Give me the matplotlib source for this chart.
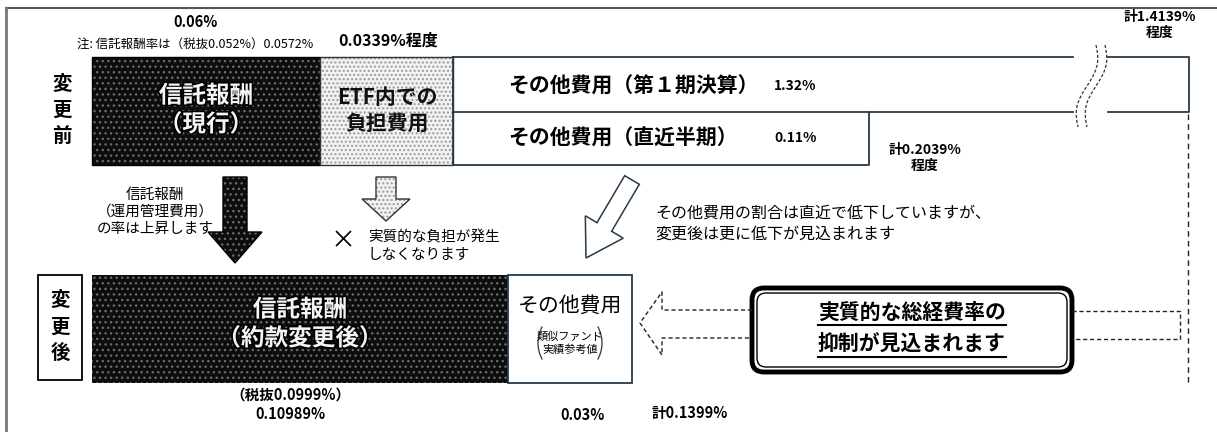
import matplotlib.pyplot as plt
import matplotlib.patheffects as pe
import numpy as np
from matplotlib.patches import Rectangle, FancyArrow, FancyBboxPatch

plt.rcParams['font.family'] = ['Noto Sans CJK JP', 'DejaVu Sans']

# values / labels
before_labels = ["信託報酬\n（現行）", "ETF内での\n負担費用", "その他費用（第１期決算）", "その他費用（直近半期）"]
before_values = ["0.06%", "0.0339%程度", "1.32%", "0.11%"]
before_totals = ["計1.4139%\n程度", "計0.2039%\n程度"]
fee_note = "注: 信託報酬率は（税抜0.052%）0.0572%"
after_labels = ["信託報酬\n（約款変更後）", "その他費用"]
after_values = ["（税抜0.0999%）\n0.10989%", "0.03%"]
after_total = "計0.1399%"
sub_note = "類似ファンド\n実績参考値"
msg_fee = "信託報酬\n（運用管理費用）\nの率は上昇します"
msg_etf = "実質的な負担が発生\nしなくなります"
msg_other = "その他費用の割合は直近で低下していますが、\n変更後は更に低下が見込まれます"
msg_main = ["実質的な総経費率の", "抑制が見込まれます"]

EDGE = '#263a4a'

fig = plt.figure(figsize=(12.17, 4.32), dpi=100)
ax = fig.add_axes([0, 0, 1, 1])
ax.set_xlim(0, 1217)
ax.set_ylim(432, 0)
ax.axis('off')

# outer frame
ax.plot([6, 1217], [8, 8], color='#555', lw=1.5)
ax.plot([6, 6], [8, 432], color='#777', lw=2)


def dotted(patch_fn, face, dots, edge='black', lw=1.0, hatch='...'):
    p1 = patch_fn()
    p1.set_facecolor(face)
    p1.set_edgecolor(dots)
    p1.set_hatch(hatch)
    p1.set_linewidth(0)
    ax.add_patch(p1)
    p2 = patch_fn()
    p2.set_facecolor('none')
    p2.set_edgecolor(edge)
    p2.set_linewidth(lw)
    ax.add_patch(p2)


def bold_white(x, y, s, size):
    ax.text(x, y, s, ha='center', va='center', fontsize=size, fontweight='bold',
            color='#f4f4f4', linespacing=1.25,
            path_effects=[pe.withStroke(linewidth=2.5, foreground='black')])


# ---- before row
dotted(lambda: Rectangle((92, 57), 228, 108), '#0d0d0d', '#6a6a6a')
bold_white(206, 110, before_labels[0], 17)
dotted(lambda: Rectangle((320, 57), 133, 108), '#f2f2f2', '#9a9a9a', edge='#333', hatch='....')
ax.text(387, 110, before_labels[1], ha='center', va='center', fontsize=15, fontweight='bold',
        color='#111', linespacing=1.25)

# upper other box with break
ax.plot([453, 1073], [57, 57], color=EDGE, lw=1.3)
ax.plot([1108, 1189, 1189, 1108], [57, 57, 112, 112], color=EDGE, lw=1.3)
ax.plot([453, 1073], [112, 112], color=EDGE, lw=1.3)
ax.plot([453, 453], [57, 165], color=EDGE, lw=1.3)
ax.plot([453, 869, 869], [165, 165, 112], color=EDGE, lw=1.3)
ax.text(508, 86, before_labels[2], ha='left', va='center', fontsize=15, fontweight='bold')
ax.text(774, 86, before_values[2], ha='left', va='center', fontsize=10, fontweight='bold')
ax.text(508, 138, before_labels[3], ha='left', va='center', fontsize=15, fontweight='bold')
ax.text(774, 138, before_values[3], ha='left', va='center', fontsize=10, fontweight='bold')

# break marks
t = np.linspace(0, 1, 60)
for off in (0, 9):
    xs = 1096 - 18 * t + 5.5 * np.sin(2 * np.pi * t) + off
    ys = 45 + 82 * t
    ax.plot(xs, ys, color='#333', lw=0.9, ls=(0, (2.5, 1.5)))

ax.text(1160, 25, before_totals[0], ha='center', va='center', fontsize=10, fontweight='bold',
        linespacing=1.15)
ax.text(925, 158, before_totals[1], ha='center', va='center', fontsize=10, fontweight='bold',
        linespacing=1.15)

ax.text(196, 22, before_values[0], ha='center', va='center', fontsize=10.5, fontweight='bold')
ax.text(195, 44, fee_note, ha='center', va='center', fontsize=9)
ax.text(388, 41, before_values[1], ha='center', va='center', fontsize=11.5, fontweight='bold')

# row label
for i, ch in enumerate("変更前"):
    ax.text(62, 84 + i * 26, ch, ha='center', va='center', fontsize=14, fontweight='bold')

# ---- arrows
dotted(lambda: FancyArrow(235, 177, 0, 86, width=24, head_width=54, head_length=31,
                          length_includes_head=True), '#0d0d0d', '#6a6a6a')
dotted(lambda: FancyArrow(386, 177, 0, 44, width=20, head_width=48, head_length=22,
                          length_includes_head=True), '#f2f2f2', '#9a9a9a', edge='#333',
       hatch='....')
ax.add_patch(FancyArrow(632, 180, -46, 78, width=17, head_width=44, head_length=36,
                        length_includes_head=True, facecolor='white', edgecolor=EDGE, lw=1.1))

ax.text(155, 212, msg_fee, ha='center', va='center', fontsize=10.5, linespacing=1.3)
ax.text(343, 241, "×", ha='center', va='center', fontsize=18)
ax.text(368, 246, msg_etf, ha='left', va='center', fontsize=10.5, linespacing=1.3)
ax.text(655, 224, msg_other, ha='left', va='center', fontsize=11.5, linespacing=1.3)

# ---- after row
ax.add_patch(Rectangle((38, 275), 44, 105, facecolor='white', edgecolor='black', lw=1.3))
for i, ch in enumerate("変更後"):
    ax.text(60, 301 + i * 26, ch, ha='center', va='center', fontsize=14, fontweight='bold')
dotted(lambda: Rectangle((92, 275), 416, 108), '#0d0d0d', '#6a6a6a', lw=0)
bold_white(300, 324, after_labels[0], 17)
ax.add_patch(Rectangle((508, 275), 124, 108, facecolor='white', edgecolor=EDGE, lw=1.3))
ax.text(570, 306, after_labels[1], ha='center', va='center', fontsize=15)
ax.text(570, 343, sub_note, ha='center', va='center', fontsize=8, linespacing=1.3)
# bracket curves around the small note
yy = np.linspace(327, 359, 30)
bend = 4 * ((yy - 343) / 16) ** 2
ax.plot(538 + bend, yy, color='#333', lw=0.9)
ax.plot(602 - bend, yy, color='#333', lw=0.9)

ax.text(290, 404, after_values[0], ha='center', va='center', fontsize=10.5, fontweight='bold',
        linespacing=1.3)
ax.text(583, 415, after_values[1], ha='center', va='center', fontsize=10.5, fontweight='bold')
ax.text(690, 413, after_total, ha='center', va='center', fontsize=10.5, fontweight='bold')

# dashed hollow arrow
dash = dict(color='#222', lw=1.0, ls=(0, (3, 2)))
ax.plot([752, 662, 662, 640, 662, 662, 752], [310, 310, 292, 323, 355, 338, 338], **dash)
ax.plot([1072, 1180, 1180, 1072], [311, 311, 339, 339], **dash)
ax.plot([1188, 1188], [114, 385], color='#222', lw=1.0, ls=(0, (4, 3)))

# main message box
ax.add_patch(FancyBboxPatch((752, 288), 320, 84, boxstyle="round,pad=0,rounding_size=12",
                            facecolor='white', edgecolor='black', lw=3.5))
ax.add_patch(FancyBboxPatch((757, 293), 310, 74, boxstyle="round,pad=0,rounding_size=9",
                            facecolor='none', edgecolor='black', lw=1.0))
fig.canvas.draw()
r = fig.canvas.get_renderer()
for i, s in enumerate(msg_main):
    y = 312 + i * 32
    tx = ax.text(912, y, s, ha='center', va='center', fontsize=15, fontweight='bold')
    bb = tx.get_window_extent(r).transformed(ax.transData.inverted())
    ax.plot([bb.x0, bb.x1], [y + 13, y + 13], color='black', lw=1.5)

plt.savefig("out.png", dpi=100)
